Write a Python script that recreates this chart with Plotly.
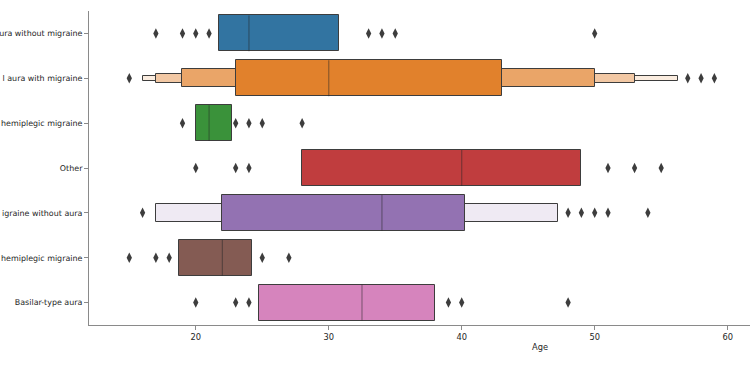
import plotly.graph_objects as go

# tick labels as visible in the (left-cropped) reference
categories = ["ura without migraine", "l aura with migraine",
              "hemiplegic migraine", "Other", "igraine without aura",
              "hemiplegic migraine", "Basilar-type aura"]
base_colors = ["#3274a1", "#e1812c", "#3a923a", "#c03d3e", "#9372b2", "#845b53", "#d684bd"]

# letter-value boxes, innermost first (None = no such level)
lv1_lo = [21.75, 23.0, 20.0, 28.0, 22.0, 18.75, 24.75]
lv1_hi = [30.75, 43.0, 22.75, 49.0, 40.25, 24.25, 38.0]
lv2_lo = [None, 19.0, None, None, 17.0, None, None]
lv2_hi = [None, 50.0, None, None, 47.25, None, None]
lv3_lo = [None, 17.0, None, None, None, None, None]
lv3_hi = [None, 53.0, None, None, None, None, None]
lv4_lo = [None, 16.0, None, None, None, None, None]
lv4_hi = [None, 56.25, None, None, None, None, None]
medians = [24.0, 30.0, 21.0, 40.0, 34.0, 22.0, 32.5]
outliers = [
    [17, 19, 20, 21, 33, 34, 35, 50],
    [15, 57, 58, 59],
    [19, 23, 24, 25, 28],
    [20, 23, 24, 51, 53, 55],
    [16, 48, 49, 50, 51, 54],
    [15, 17, 18, 25, 27],
    [20, 23, 24, 39, 40, 48],
]
x_ticks = [20, 30, 40, 50, 60]

levels_lo = [lv1_lo, lv2_lo, lv3_lo, lv4_lo]
levels_hi = [lv1_hi, lv2_hi, lv3_hi, lv4_hi]
EDGE = "#3d3d3d"
BOX_W = 0.8


def hex_to_rgb(h):
    h = h.lstrip("#")
    return tuple(int(h[i:i + 2], 16) for i in (0, 2, 4))


def blend_white(h, f):
    r, g, b = hex_to_rgb(h)
    return "rgb(%d,%d,%d)" % (round(r + (255 - r) * f), round(g + (255 - g) * f), round(b + (255 - b) * f))


n_levels = [sum(1 for lv in levels_lo if lv[i] is not None) for i in range(len(categories))]

fig = go.Figure()

# draw outer levels first
for j in range(len(levels_lo) - 1, -1, -1):
    ys, xs, bases, cols = [], [], [], []
    for i in range(len(categories)):
        lo, hi = levels_lo[j][i], levels_hi[j][i]
        if lo is None:
            continue
        k = n_levels[i]
        frac = 0.85 * j / (k - 1) if k > 1 else 0.0
        ys.append(i)
        bases.append(lo)
        xs.append(hi - lo)
        cols.append(blend_white(base_colors[i], frac))
    if not ys:
        continue
    fig.add_trace(go.Bar(
        y=ys, x=xs, base=bases, orientation="h", width=BOX_W * 0.5 ** j,
        marker=dict(color=cols, line=dict(color=EDGE, width=1)),
        showlegend=False, hoverinfo="skip"))

# medians
mx, my = [], []
for i, m in enumerate(medians):
    mx += [m, m, None]
    my += [i - BOX_W / 2, i + BOX_W / 2, None]
fig.add_trace(go.Scatter(x=mx, y=my, mode="lines",
                         line=dict(color="rgba(38,38,38,0.45)", width=1.2),
                         showlegend=False, hoverinfo="skip"))

# outliers
ox, oy = [], []
for i, vals in enumerate(outliers):
    ox += vals
    oy += [i] * len(vals)
fig.add_trace(go.Scatter(x=ox, y=oy, mode="markers",
                         marker=dict(symbol="diamond-tall", size=7.5, color=EDGE, line=dict(width=0)),
                         showlegend=False, hoverinfo="skip"))

axis_col = "#8a8a8a"
font = dict(family="DejaVu Sans", size=8.3, color="#262626")
yfont = dict(family="DejaVu Sans", size=7.95, color="#262626")

fig.update_layout(
    width=750, height=383,
    margin=dict(l=89, r=0, t=11, b=58),
    paper_bgcolor="white", plot_bgcolor="white",
    barmode="overlay", bargap=0,
    font=font,
    xaxis=dict(range=[11.97, 61.68], tickvals=x_ticks, showgrid=False, zeroline=False,
               showline=True, linecolor=axis_col, linewidth=1,
               ticks="outside", ticklen=4, tickcolor=axis_col, tickfont=font,
               automargin=False),
    yaxis=dict(range=[6.5, -0.5], tickvals=list(range(len(categories))), ticktext=categories,
               showgrid=False, zeroline=False, showline=True, linecolor=axis_col, linewidth=1,
               ticks="outside", ticklen=4, tickcolor=axis_col, tickfont=yfont,
               automargin=False),
    annotations=[dict(text="Age", xref="x", yref="paper", x=45.9, y=0, yshift=-22,
                      showarrow=False, xanchor="center", yanchor="middle", font=font)],
)

fig.write_html("out.html", config={"displayModeBar": False},
               post_script="document.body.style.margin='0';")
